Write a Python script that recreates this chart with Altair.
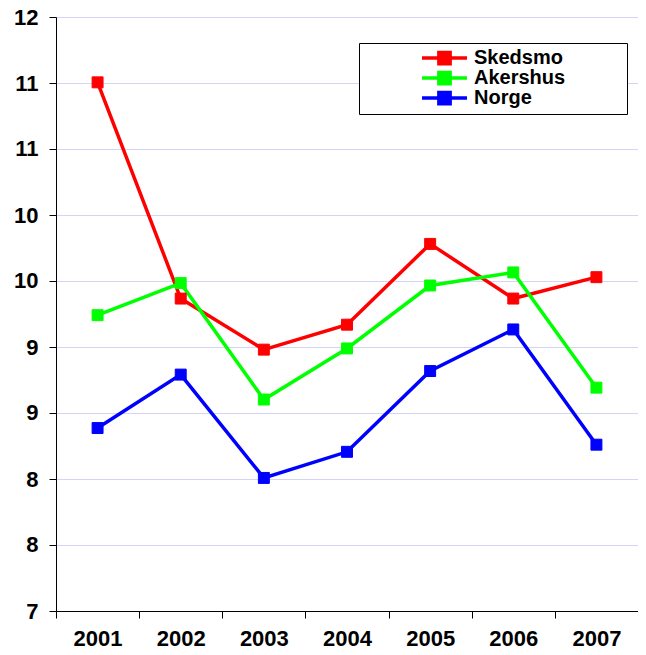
import altair as alt
import pandas as pd

years = [2001, 2002, 2003, 2004, 2005, 2006, 2007]
series = ["Skedsmo", "Akershus", "Norge"]
skedsmo = [11.45, 9.63, 9.20, 9.41, 10.09, 9.63, 9.81]
akershus = [9.49, 9.76, 8.78, 9.21, 9.74, 9.85, 8.88]
norge = [8.54, 8.99, 8.12, 8.34, 9.02, 9.37, 8.40]
colors = ["#ff0000", "#00ff00", "#0000ff"]
y_ticks = [7.0, 7.5556, 8.1111, 8.6667, 9.2222, 9.7778, 10.3333, 10.8889, 11.4444, 12.0]
x_edges = [2000.5, 2001.5, 2002.5, 2003.5, 2004.5, 2005.5, 2006.5, 2007.5]

rows = []
for name, vals in zip(series, [skedsmo, akershus, norge]):
    for yr, v in zip(years, vals):
        rows.append({"year": yr, "value": v, "series": name})
df = pd.DataFrame(rows)

FONT = "Liberation Sans"
cscale = alt.Scale(domain=series, range=colors)
xscale = alt.Scale(domain=[2000.5, 2007.5], nice=False, zero=False)
yscale = alt.Scale(domain=[7, 12], nice=False, zero=False)

yaxis = alt.Axis(values=y_ticks, format=".0f", title=None, grid=True, gridColor="#d4d4f6",
                 tickSize=7, tickColor="black", domainColor="black", labelPadding=11,
                 labelFont=FONT, labelFontSize=22, labelFontWeight="bold", labelColor="black")

pad = "\u00a0" * 10 + "\u200b"
legend = alt.Legend(
    orient="none", legendX=303, legendY=26, title=None,
    symbolType="M-1,0H1M-0.25,-0.25H0.25V0.25H-0.25Z", symbolSize=2025,
    symbolStrokeWidth=3.5, symbolOpacity=1, symbolOffset=55, clipHeight=18,
    labelOffset=5, labelFont=FONT, labelFontSize=20, labelFontWeight="bold",
    labelColor="black", labelLimit=300,
    labelExpr="datum.label + '" + pad + "'",
    padding=6, strokeColor="black", fillColor="white", rowPadding=0,
)

base = alt.Chart(df)
lines = base.mark_line(strokeWidth=3.5).encode(
    x=alt.X("year:Q", scale=xscale,
            axis=alt.Axis(values=x_edges, labels=False, grid=False, tickSize=7, title=None,
                          tickColor="black", domainColor="black", orient="bottom")),
    y=alt.Y("value:Q", scale=yscale, axis=yaxis),
    stroke=alt.Stroke("series:N", scale=cscale, legend=legend),
)
points = base.mark_point(shape="square", filled=True, size=120, opacity=1, strokeWidth=1).encode(
    x=alt.X("year:Q", scale=xscale,
            axis=alt.Axis(values=years, format="d", ticks=False, domain=False, grid=False,
                          title=None, labelPadding=17, labelFont=FONT, labelFontSize=22,
                          labelFontWeight="bold", labelColor="black", orient="bottom")),
    y=alt.Y("value:Q", scale=yscale, axis=yaxis),
    fill=alt.Fill("series:N", scale=cscale, legend=legend),
    stroke=alt.Stroke("series:N", scale=cscale, legend=legend),
)

chart = alt.layer(lines, points).resolve_axis(x="independent").properties(
    width=582, height=594,
    autosize=alt.AutoSizeParams(type="none"),
    padding={"left": 48, "top": 9, "right": 0, "bottom": 40},
).configure_view(stroke="#888888", strokeWidth=1).configure(background="white")

chart.save("out.html", embed_options={"renderer": "svg", "actions": False})
